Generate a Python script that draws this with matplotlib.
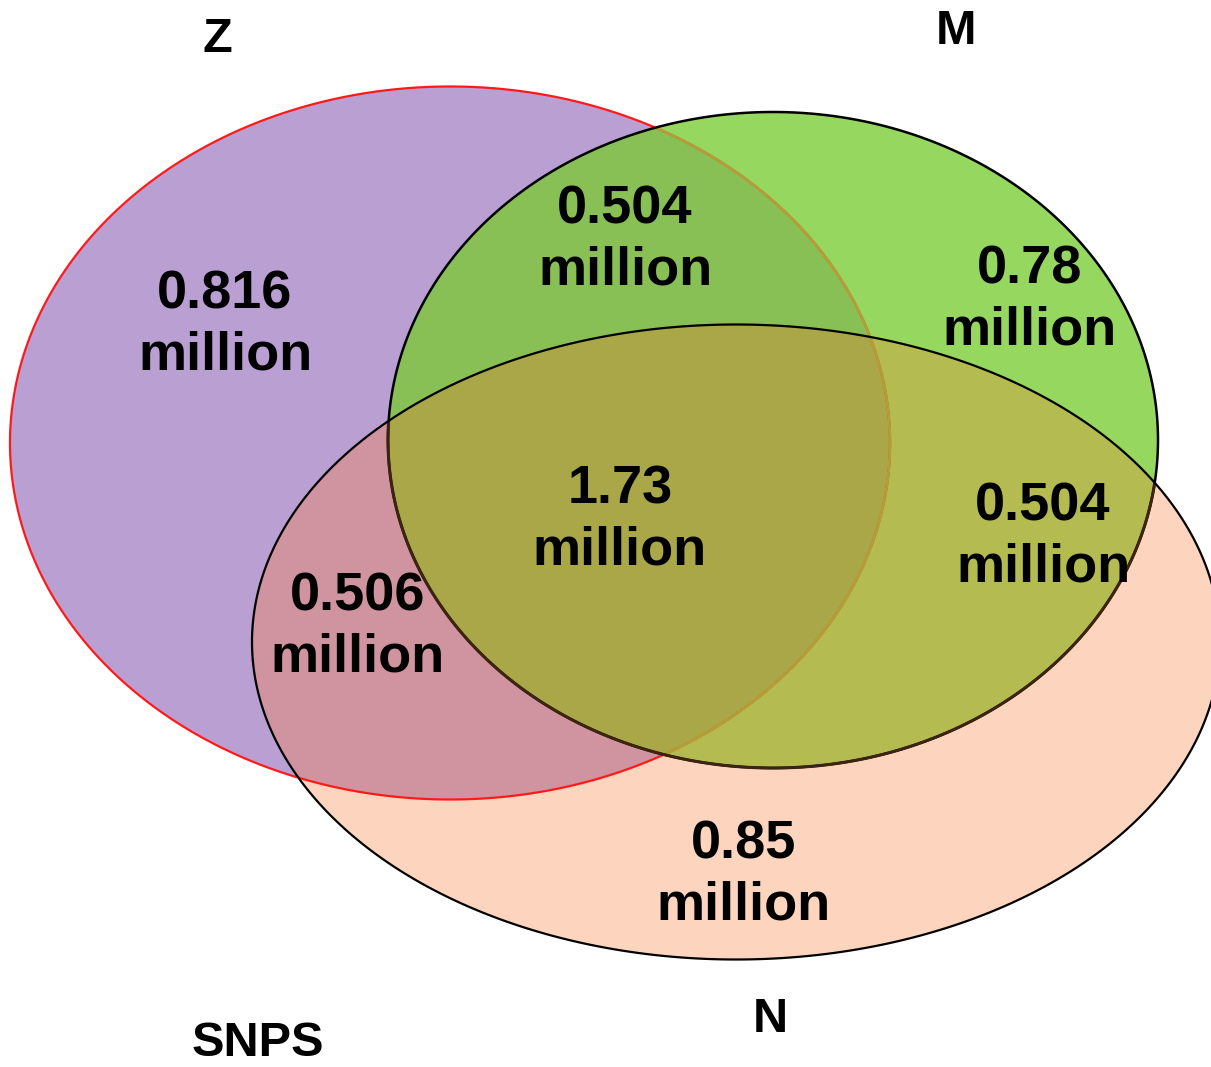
import numpy as np
import matplotlib
matplotlib.use("Agg")
import matplotlib.pyplot as plt
from matplotlib.patches import Polygon, Ellipse

# ---- data ----
set_names = ["Z", "M", "N"]
region_keys = ["Z", "ZM", "M", "ZMN", "MN", "ZN", "N"]
region_values = ["0.816", "0.504", "0.78", "1.73", "0.504", "0.506", "0.85"]
unit = "million"
caption = "SNPS"

# ---- geometry (pixel coordinates of the 1211x1067 canvas) ----
ell = {
    "Z": (450, 443, 880, 713),
    "M": (773, 440, 770, 656),
    "N": (736, 642, 968, 635),
}
label_pos = {
    "Z": (225, 325), "ZM": (625, 240), "M": (1030, 300), "ZMN": (620, 520),
    "MN": (1043, 537), "ZN": (358, 627), "N": (744, 875),
}
name_pos = {"Z": (217, 39), "M": (956, 31), "N": (770, 1019)}
caption_pos = (258, 1043)

colors = {
    "Z": "#BA9FD3", "M": "#96D760", "N": "#FDD5BF",
    "ZM": "#88C056", "ZN": "#D093A0", "MN": "#B4BB50", "ZMN": "#A9A748",
}


def ellipse_poly(cx, cy, w, h, n=720):
    t = np.linspace(0, 2 * np.pi, n, endpoint=False)
    return np.column_stack([cx + w / 2 * np.cos(t), cy + h / 2 * np.sin(t)])


def clip(subject, clipper):
    def inside(p, a, b):
        return (b[0] - a[0]) * (p[1] - a[1]) - (b[1] - a[1]) * (p[0] - a[0]) >= 0

    def inter(p1, p2, a, b):
        x1, y1 = p1; x2, y2 = p2; x3, y3 = a; x4, y4 = b
        den = (x1 - x2) * (y3 - y4) - (y1 - y2) * (x3 - x4)
        px = ((x1 * y2 - y1 * x2) * (x3 - x4) - (x1 - x2) * (x3 * y4 - y3 * x4)) / den
        py = ((x1 * y2 - y1 * x2) * (y3 - y4) - (y1 - y2) * (x3 * y4 - y3 * x4)) / den
        return (px, py)

    out = [tuple(p) for p in subject]
    m = len(clipper)
    for i in range(m):
        a = clipper[i]; b = clipper[(i + 1) % m]
        inp = out
        out = []
        if not inp:
            break
        s = inp[-1]
        for e in inp:
            if inside(e, a, b):
                if not inside(s, a, b):
                    out.append(inter(s, e, a, b))
                out.append(e)
            elif inside(s, a, b):
                out.append(inter(s, e, a, b))
            s = e
    return np.array(out)


polys = {k: ellipse_poly(*v) for k, v in ell.items()}

fig = plt.figure(figsize=(12.11, 10.67), dpi=100)
ax = fig.add_axes([0, 0, 1, 1])
ax.set_xlim(0, 1211)
ax.set_ylim(1067, 0)
ax.axis("off")

region_polys = {
    "Z": polys["Z"], "M": polys["M"], "N": polys["N"],
    "ZM": clip(polys["Z"], polys["M"]),
    "ZN": clip(polys["Z"], polys["N"]),
    "MN": clip(polys["M"], polys["N"]),
}
region_polys["ZMN"] = clip(region_polys["ZM"], polys["N"])

for k in ["Z", "M", "N", "ZM", "ZN", "MN", "ZMN"]:
    ax.add_patch(Polygon(region_polys[k], closed=True, facecolor=colors[k],
                         edgecolor="none", zorder=1))

clipM = Ellipse(ell["M"][:2], ell["M"][2], ell["M"][3], transform=ax.transData)
clipN = Ellipse(ell["N"][:2], ell["N"][2], ell["N"][3], transform=ax.transData)

ax.add_patch(Polygon(polys["Z"], closed=True, fill=False, edgecolor="#FF1A1A", lw=1.6, zorder=2))
zin = Polygon(polys["Z"], closed=True, fill=False, edgecolor="#B49E3A", lw=2.0, zorder=3)
ax.add_patch(zin)
zin.set_clip_path(clipM)

ax.add_patch(Polygon(polys["M"], closed=True, fill=False, edgecolor="black", lw=1.8, zorder=4))
min_ = Polygon(polys["M"], closed=True, fill=False, edgecolor="#3C2410", lw=2.2, zorder=5)
ax.add_patch(min_)
min_.set_clip_path(clipN)

ax.add_patch(Polygon(polys["N"], closed=True, fill=False, edgecolor="black", lw=1.6, zorder=6))

font = ["Liberation Sans", "DejaVu Sans"]
for k, v in zip(region_keys, region_values):
    x, y = label_pos[k]
    ax.text(x, y, f"{v}\n{unit}", ha="center", va="center", fontsize=39,
            fontweight="bold", family=font, linespacing=1.3, zorder=10)

for k in set_names:
    x, y = name_pos[k]
    ax.text(x, y, k, ha="center", va="center", fontsize=35, fontweight="bold",
            family=font, zorder=10)
ax.text(*caption_pos, caption, ha="center", va="center", fontsize=35,
        fontweight="bold", family=font, zorder=10)

fig.savefig("out.png", dpi=100)
